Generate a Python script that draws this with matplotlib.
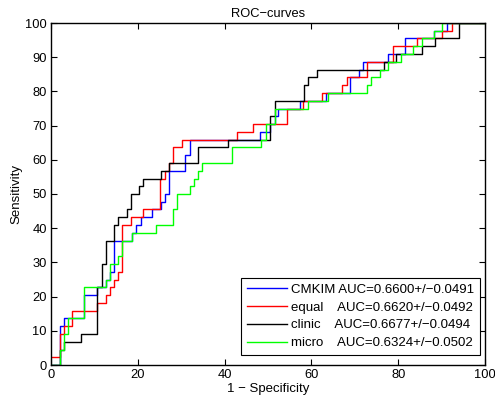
import matplotlib
matplotlib.use("Agg")
import matplotlib.pyplot as plt

plt.rcParams['font.family'] = ['Liberation Sans', 'DejaVu Sans']

# ROC curve corner points: (1 - specificity [%], sensitivity [%])
cmkim_fpr = [0, 2.1, 3.0, 7.7, 10.7, 12.6, 13.6, 14.5, 18.6, 19.5, 20.8, 23.2, 25.3, 26.3, 27.2, 30.9,
             32.0, 48.2, 50.5, 51.5, 52.4, 57.4, 63.3, 68.9, 71.0, 72.0, 77.7, 81.6, 88.3, 91.3, 100]
cmkim_tpr = [0, 11.4, 13.6, 20.5, 22.7, 25.0, 27.3, 36.4, 38.6, 40.9, 43.2, 45.5, 47.7, 50.0, 56.8, 61.4,
             65.9, 68.2, 70.5, 72.7, 75.0, 77.3, 79.5, 84.1, 86.4, 88.6, 90.9, 95.5, 97.7, 100, 100]

equal_fpr = [0, 2.1, 3.0, 4.8, 10.7, 12.6, 13.6, 14.5, 15.4, 16.4, 18.4, 21.3, 25.2, 26.2, 27.2, 28.2,
             30.1, 42.8, 46.6, 54.3, 58.1, 62.4, 67.0, 68.1, 72.7, 78.7, 84.4, 90.2, 92.3, 100]
equal_tpr = [2.3, 9.1, 11.4, 15.9, 18.2, 20.5, 22.7, 25.0, 27.3, 40.9, 43.2, 45.5, 54.5, 56.8, 59.1, 63.6,
             65.9, 68.2, 70.5, 75.0, 77.3, 79.5, 81.8, 84.1, 88.6, 93.2, 95.5, 97.7, 100, 100]

clinic_fpr = [0, 2.0, 3.0, 6.8, 10.7, 11.7, 12.7, 14.6, 15.5, 17.4, 18.5, 20.3, 21.3, 25.3, 27.2, 33.9,
              40.7, 50.5, 51.6, 58.2, 59.3, 61.2, 76.7, 79.6, 85.4, 88.5, 94.1, 100]
clinic_tpr = [0, 4.5, 6.8, 9.1, 22.7, 29.5, 36.4, 40.9, 43.2, 45.5, 50.0, 52.3, 54.5, 56.8, 59.1, 63.6,
              65.9, 72.7, 77.3, 81.8, 84.1, 86.4, 88.6, 90.9, 93.2, 95.5, 100, 100]

micro_fpr = [0, 2.1, 3.0, 3.9, 7.7, 12.6, 13.6, 15.5, 16.4, 18.6, 24.2, 28.2, 29.1, 32.0, 32.9, 33.9,
             34.9, 41.6, 48.5, 49.5, 51.6, 59.3, 63.9, 72.7, 73.7, 75.7, 77.7, 80.6, 83.5, 85.4, 88.3, 90.2, 100]
micro_tpr = [0, 4.5, 9.1, 13.6, 22.7, 25.0, 29.5, 31.8, 36.4, 38.6, 40.9, 45.5, 50.0, 52.3, 54.5, 56.8,
             59.1, 63.6, 65.9, 70.5, 75.0, 77.3, 79.5, 81.8, 84.1, 86.4, 88.6, 90.9, 93.2, 95.5, 97.7, 100, 100]

labels = ["CMKIM AUC=0.6600+/\u22120.0491",
          "equal    AUC=0.6620+/\u22120.0492",
          "clinic    AUC=0.6677+/\u22120.0494",
          "micro    AUC=0.6324+/\u22120.0502"]
colors = ["#0000ff", "#ff0000", "#000000", "#00ff00"]

xticks = [0, 20, 40, 60, 80, 100]
yticks = [0, 10, 20, 30, 40, 50, 60, 70, 80, 90, 100]

fig = plt.figure(figsize=(4.95, 4.04), dpi=100)
ax = fig.add_axes([51/495, 39/404, 434/495, 342/404])

series = [(cmkim_fpr, cmkim_tpr), (equal_fpr, equal_tpr), (clinic_fpr, clinic_tpr), (micro_fpr, micro_tpr)]
for (fx, fy), c, lab in zip(series, colors, labels):
    ax.plot(fx, fy, drawstyle='steps-post', color=c, lw=1.0, label=lab)

ax.set_xlim(0, 100)
ax.set_ylim(0, 100)
ax.set_xticks(xticks)
ax.set_yticks(yticks)
ax.tick_params(direction='in', top=True, right=True, length=4, width=0.8, labelsize=9.3, pad=3)
for s in ax.spines.values():
    s.set_linewidth(1.0)

ax.set_title("ROC\u2212curves", fontsize=9.3, pad=4)
ax.set_xlabel("1 \u2212 Specificity", fontsize=9.5, labelpad=1)
ax.set_ylabel("Sensitivity", fontsize=9.5, labelpad=2)

leg = ax.legend(loc='lower right', bbox_to_anchor=(0.9885, 0.029), borderaxespad=0,
                fontsize=9.5, frameon=True, fancybox=False, framealpha=1, edgecolor='black',
                handlelength=3.0, labelspacing=0.42, handletextpad=0.3, borderpad=0.45)
leg.get_frame().set_linewidth(0.8)

fig.savefig("out.png", dpi=100)
